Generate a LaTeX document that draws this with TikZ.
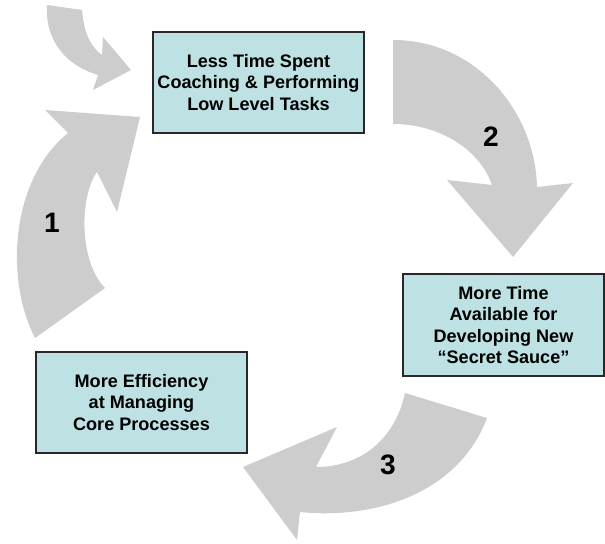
\documentclass[tikz,border=0pt]{standalone}
\usepackage{fontspec}
\setmainfont{Liberation Sans}
\usepackage{tikz}

\definecolor{boxfill}{RGB}{190,225,227}
\definecolor{arrowgray}{RGB}{205,205,205}
\definecolor{boxline}{RGB}{40,40,40}

\tikzset{
	stepbox/.style={draw=boxline,fill=boxfill,line width=0.6pt,align=center,
		inner sep=0pt,font=\fontsize{10.3}{12}\selectfont\bfseries},
	bigarrow/.style={fill=arrowgray,draw=none},
	stepnum/.style={draw=none,fill=none,font=\fontsize{16}{16}\selectfont\bfseries}
}

\begin{document}
\begin{tikzpicture}[x=0.02cm,y=-0.02cm]
	
	\useasboundingbox (0,0) rectangle (605,544);
	
	% the three arrows round the cycle, and the small one coming in
	\fill[bigarrow] (47,5) -- (82,10) .. controls (84,35) and (92,48) .. (102,55)
		-- (103,37) -- (131,70) -- (93,90) -- (98,75)
		.. controls (65,65) and (45,40) .. (47,5) -- cycle;
	\fill[bigarrow] (35,338) .. controls (5,280) and (10,180) .. (68,133)
		-- (45,110) -- (140,117) -- (117,212) -- (97,172)
		.. controls (80,195) and (78,260) .. (105,288) -- cycle;
	\fill[bigarrow] (393,40) .. controls (475,40) and (535,110) .. (537,187)
		-- (573,183) -- (513,257) -- (447,180) -- (492,185)
		.. controls (480,150) and (440,124) .. (393,124) -- cycle;
	\fill[bigarrow] (487,418) .. controls (460,490) and (380,520) .. (300,512)
		-- (297,540) -- (243,467) -- (337,427) -- (316,467)
		.. controls (360,467) and (395,440) .. (405,393) -- cycle;
	
	\node[stepbox,minimum width=4.22cm,minimum height=2.02cm] (less) at (258.5,82.5)
		{Less Time Spent\\Coaching \& Performing\\Low Level Tasks};
	\node[stepbox,minimum width=4.02cm,minimum height=2.04cm] (more) at (503.5,325)
		{More Time\\Available for\\Developing New\\``Secret Sauce''};
	\node[stepbox,minimum width=4.22cm,minimum height=2.02cm] (eff) at (141.5,402.5)
		{More Efficiency\\at Managing\\Core Processes};
	
	\node[stepnum] (one) at (52,223) {1};
	\node[stepnum] (two) at (491,137) {2};
	\node[stepnum] (three) at (388,465) {3};
	
\end{tikzpicture}
\end{document}
